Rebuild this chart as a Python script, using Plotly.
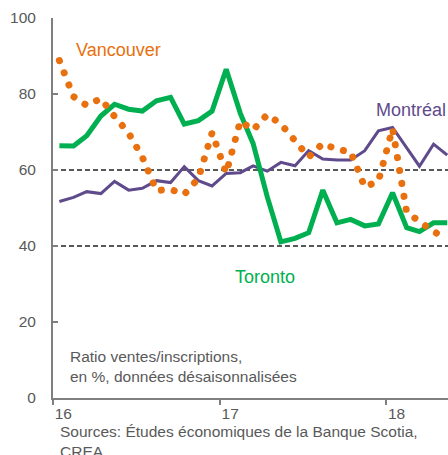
import plotly.graph_objects as go
import pandas as pd

# ---- data (monthly, Jan 2016 - May 2018) ----
months = [d.strftime("%Y-%m-%d") for d in pd.date_range("2016-01-01", periods=29, freq="MS") + pd.Timedelta(days=14)]

toronto = [66.4, 66.3, 69.0, 74.2, 77.3, 76.0, 75.5, 78.2, 79.1, 72.1, 73.0, 75.5,
           86.5, 74.9, 67.0, 53.0, 41.1, 42.0, 43.5, 54.7, 46.1, 47.0, 45.3, 45.8,
           54.0, 44.8, 43.8, 46.1, 46.1]
montreal = [51.7, 52.8, 54.3, 53.8, 57.0, 54.7, 55.2, 57.2, 56.7, 60.9, 57.2, 55.8,
            59.1, 59.3, 61.1, 59.7, 62.0, 61.1, 65.1, 62.9, 62.6, 62.6, 65.1, 70.3,
            71.2, 66.0, 61.0, 66.8, 63.9]
vancouver = [88.8, 79.3, 77.0, 78.8, 74.1, 69.7, 63.4, 54.6, 54.9, 53.6, 57.8, 69.8,
             59.2, 72.9, 70.5, 74.6, 72.1, 67.8, 63.4, 67.0, 65.4, 64.8, 55.5, 57.1,
             70.9, 48.9, 46.3, 43.8, 42.0]

tick_vals = ["2016-01-01", "2017-01-01", "2018-01-01"]
tick_text = ["16", "17", "18"]
y_ticks = [0, 20, 40, 60, 80, 100]
ref_levels = [60, 40]

FONT = "Arial, Liberation Sans, sans-serif"
GREEN = "#00b050"
ORANGE = "#e8700e"
PURPLE = "#5f4a8b"
GRAY = "#595959"
AXIS = "#7f7f7f"

fig = go.Figure()
fig.add_trace(go.Scatter(x=months, y=montreal, mode="lines",
                         line=dict(color=PURPLE, width=3), name="Montréal"))
fig.add_trace(go.Scatter(x=months, y=toronto, mode="lines",
                         line=dict(color=GREEN, width=5), name="Toronto"))
fig.add_trace(go.Scatter(x=months, y=vancouver, mode="lines",
                         line=dict(color=ORANGE, width=7, dash="0.1px,13px"),
                         name="Vancouver"))

for lv in ref_levels:
    fig.add_shape(type="line", xref="paper", x0=0, x1=1, yref="y", y0=lv, y1=lv,
                  line=dict(color=GRAY, width=2, dash="5px,3px"), layer="below")

# series labels
fig.add_annotation(x="2016-02-17", y=91.6, text="Vancouver", showarrow=False,
                   xanchor="left", yanchor="middle", font=dict(size=18, color=ORANGE, family=FONT))
fig.add_annotation(x="2017-12-06", y=75.9, text="Montréal", showarrow=False,
                   xanchor="left", yanchor="middle", font=dict(size=18, color=PURPLE, family=FONT))
fig.add_annotation(x="2017-01-29", y=31.8, text="Toronto", showarrow=False,
                   xanchor="left", yanchor="middle", font=dict(size=18, color=GREEN, family=FONT))

fig.add_annotation(xref="paper", yref="paper", x=(68 - 53) / 395, y=(398 - 366.5) / 380,
                   text="Ratio ventes/inscriptions,<br>en %, données désaisonnalisées",
                   showarrow=False, xanchor="left", yanchor="middle", align="left",
                   font=dict(size=15.5, color=GRAY, family=FONT))
fig.add_annotation(xref="paper", yref="paper", x=(58 - 53) / 395, y=(398 - 441) / 380,
                   text="Sources: Études économiques de la Banque Scotia,<br>CREA.",
                   showarrow=False, xanchor="left", yanchor="middle", align="left",
                   font=dict(size=15.5, color=GRAY, family=FONT))

fig.update_layout(
    width=448, height=455,
    margin=dict(l=53, r=0, t=18, b=57),
    paper_bgcolor="white", plot_bgcolor="white",
    showlegend=False,
    font=dict(family=FONT, size=15.5, color=GRAY),
    xaxis=dict(type="date", range=["2016-01-01", "2018-05-16 16:00"],
               tickvals=tick_vals, ticktext=tick_text,
               ticks="outside", ticklen=5, tickwidth=1.5, tickcolor=AXIS,
               ticklabelposition="outside right",
               showline=True, linecolor=AXIS, linewidth=2,
               showgrid=False, zeroline=False,
               tickfont=dict(size=15.5, color=GRAY)),
    yaxis=dict(range=[0, 100], tickvals=y_ticks,
               ticks="inside", ticklen=5, tickwidth=1.5, tickcolor=AXIS,
               ticklabelstandoff=12,
               showline=True, linecolor=AXIS, linewidth=2,
               showgrid=False, zeroline=False,
               tickfont=dict(size=15.5, color=GRAY)),
)

post = """
document.documentElement.style.margin = '0';
document.body.style.margin = '0';
document.body.style.padding = '0';
document.body.style.overflow = 'hidden';
var gd = document.getElementById('{plot_id}');
function roundDots(){
  var paths = gd.querySelectorAll('path.js-line');
  paths.forEach(function(p){
    var d = p.style.strokeDasharray || '';
    if (d.indexOf('13px') >= 0) { p.style.strokeLinecap = 'round'; }
  });
}
roundDots();
if (gd.on) { gd.on('plotly_afterplot', roundDots); }
setTimeout(roundDots, 50);
"""
fig.write_html("out.html", post_script=post, config={"displayModeBar": False})
